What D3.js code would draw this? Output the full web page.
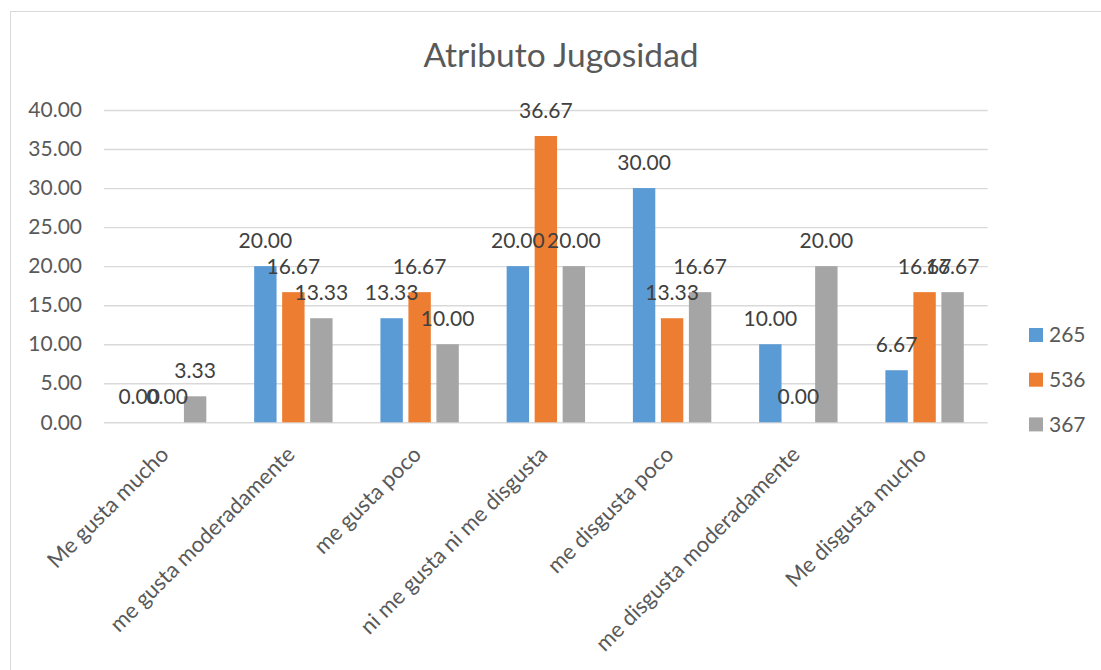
<!DOCTYPE html>
<html>
<head>
<meta charset="utf-8">
<script src="https://cdn.jsdelivr.net/npm/d3@7"></script>
<style>
  html, body { margin: 0; padding: 0; background: #fff; }
  svg { display: block; font-family: Lato, "Open Sans", sans-serif; }
</style>
</head>
<body>
<svg id="chart" width="1101" height="670"></svg>
<script>
// Categories of the hedonic scale
const categories = [
  "Me gusta mucho",
  "me gusta moderadamente",
  "me gusta poco",
  "ni me gusta ni me disgusta",
  "me disgusta poco",
  "me disgusta moderadamente",
  "Me disgusta mucho"
];

// Sample codes (series) and their percentages per category
const seriesNames = ["265", "536", "367"];
const values265 = [0.00, 20.00, 13.33, 20.00, 30.00, 10.00, 6.67];
const values536 = [0.00, 16.67, 16.67, 36.67, 13.33, 0.00, 16.67];
const values367 = [3.33, 13.33, 10.00, 20.00, 16.67, 20.00, 16.67];
const seriesValues = [values265, values536, values367];
const seriesColors = ["#5B9BD5", "#ED7D31", "#A5A5A5"];

const yTicks = [0, 5, 10, 15, 20, 25, 30, 35, 40];
const chartTitle = "Atributo Jugosidad";

const svg = d3.select("#chart");

// outer chart frame
svg.append("rect")
  .attr("x", 10.5).attr("y", 11.5)
  .attr("width", 1200).attr("height", 800)
  .attr("fill", "#fff").attr("stroke", "#d9d9d9").attr("stroke-width", 1);

const plot = { left: 104, right: 987.7, top: 110, bottom: 422.3 };

const x0 = d3.scaleBand()
  .domain(categories)
  .range([plot.left, plot.right])
  .paddingInner(0.379)
  .paddingOuter(0.1895);

const x1 = d3.scaleBand()
  .domain(seriesNames)
  .range([0, x0.bandwidth()])
  .paddingInner(0.2);

const y = d3.scaleLinear().domain([0, 40]).range([plot.bottom, plot.top]);

// title
svg.append("text")
  .attr("x", 561).attr("y", 67)
  .attr("text-anchor", "middle")
  .attr("fill", "#595959")
  .style("font-size", "33.5px")
  .text(chartTitle);

// y axis with gridlines
const yAxis = svg.append("g")
  .attr("transform", `translate(${plot.left},0)`)
  .call(d3.axisLeft(y)
    .tickValues(yTicks)
    .tickFormat(d3.format(".2f"))
    .tickSize(-(plot.right - plot.left))
    .tickPadding(22));
yAxis.select(".domain").remove();
yAxis.selectAll(".tick line").attr("stroke", "#d9d9d9").attr("stroke-width", 1.4);
yAxis.selectAll(".tick text")
  .attr("fill", "#595959")
  .style("font-size", "21px")
  .style("font-family", "Lato, sans-serif");

// bars
const groups = svg.append("g").selectAll("g")
  .data(categories)
  .join("g")
  .attr("transform", d => `translate(${x0(d)},0)`);

groups.selectAll("rect")
  .data((c, i) => seriesNames.map((s, k) => ({ s, v: seriesValues[k][i], k })))
  .join("rect")
  .attr("x", d => x1(d.s))
  .attr("width", x1.bandwidth())
  .attr("y", d => y(d.v))
  .attr("height", d => y(0) - y(d.v))
  .attr("fill", d => seriesColors[d.k]);

// value labels
groups.selectAll("text")
  .data((c, i) => seriesNames.map((s, k) => ({ s, v: seriesValues[k][i], k })))
  .join("text")
  .attr("x", d => x1(d.s) + x1.bandwidth() / 2)
  .attr("y", d => y(d.v) - 18)
  .attr("text-anchor", "middle")
  .attr("fill", "#404040")
  .style("font-size", "21px")
  .text(d => d3.format(".2f")(d.v));

// category labels, rotated
svg.append("g").selectAll("text")
  .data(categories)
  .join("text")
  .attr("transform", d => `translate(${x0(d) + x0.bandwidth() / 2 - 8},445) rotate(-45)`)
  .attr("text-anchor", "end")
  .attr("dy", "0.7em")
  .attr("fill", "#595959")
  .style("font-size", "22px")
  .text(d => d);

// legend
const legend = svg.append("g").selectAll("g")
  .data(seriesNames)
  .join("g")
  .attr("transform", (d, i) => `translate(1029,${335 + i * 44.7})`);
legend.append("rect")
  .attr("x", 0).attr("y", -7).attr("width", 14).attr("height", 14)
  .attr("fill", (d, i) => seriesColors[i]);
legend.append("text")
  .attr("x", 20).attr("dy", "0.35em")
  .attr("fill", "#595959")
  .style("font-size", "21px")
  .text(d => d);
</script>
</body>
</html>
